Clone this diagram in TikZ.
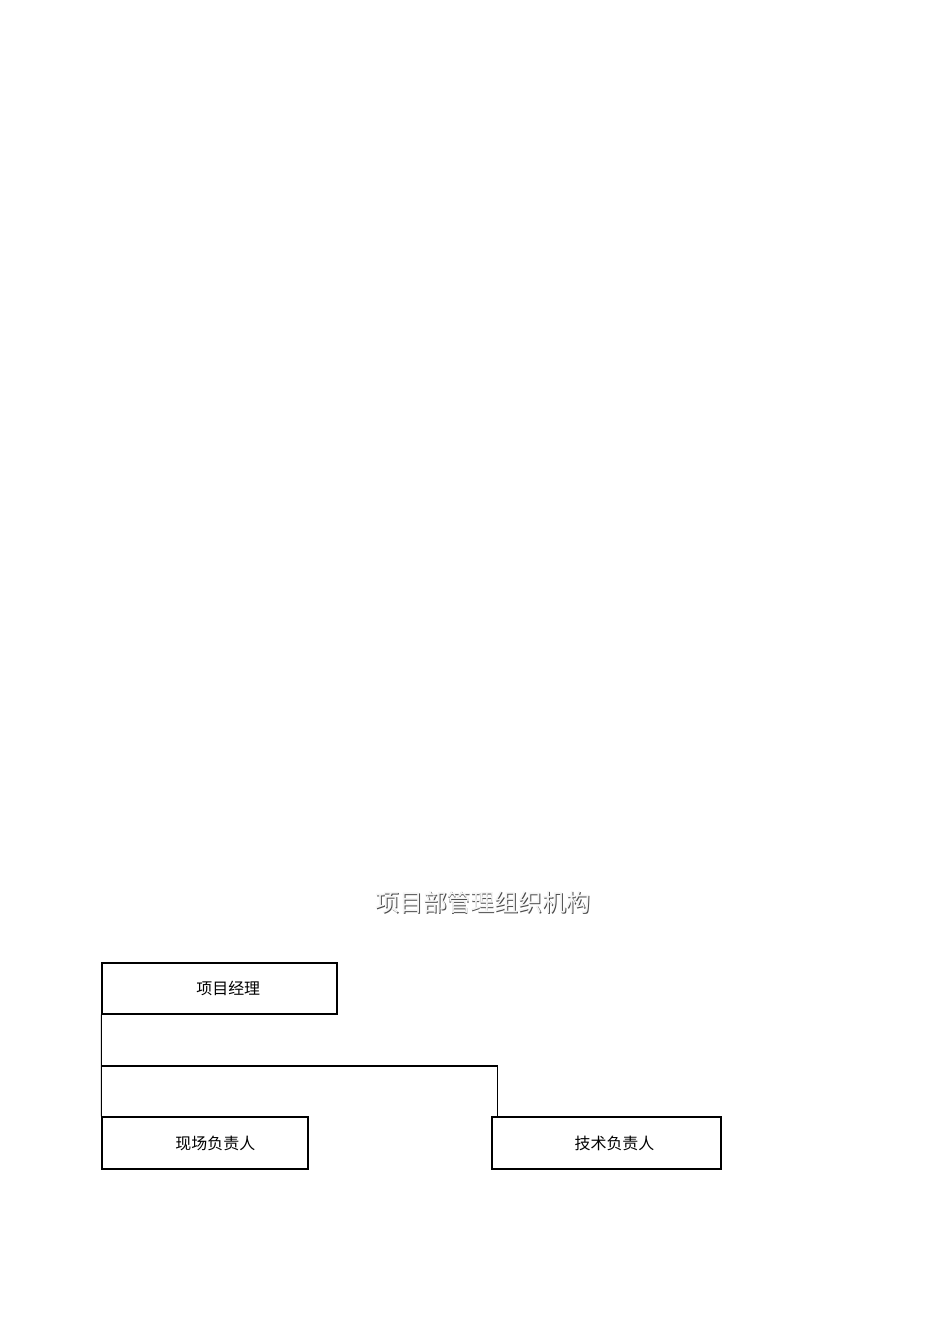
\documentclass[tikz,border=0pt]{standalone}
\usepackage{fontspec}
\setmainfont{Noto Sans CJK SC}
\usetikzlibrary{calc}
\tikzset{
  orgbox/.style={rectangle, line width=0.75pt, draw=black, inner sep=0pt},
}
\begin{document}
\begin{tikzpicture}[x=0.6266pt, y=-0.6266pt]
                \useasboundingbox (0,0) rectangle (950,1344);

                % title, embossed look
                \node[gray!60!black, font=\fontsize{15}{18}\selectfont] (titleshade) at (483.9, 902.9) {项目部管理组织机构};
                \node[gray!8, font=\fontsize{15}{18}\selectfont] (title) at (483, 902) {项目部管理组织机构};

                \node[orgbox, minimum width=147.3pt, minimum height=32.0pt, font=\fontsize{10}{12}\selectfont] (manager) at (219.5, 988.5) {\hspace*{11pt}项目经理};
                \node[orgbox, minimum width=129.1pt, minimum height=32.6pt, font=\fontsize{10}{12}\selectfont] (site)    at (205, 1143)   {\hspace*{13pt}现场负责人};
                \node[orgbox, minimum width=143.5pt, minimum height=32.6pt, font=\fontsize{10}{12}\selectfont] (tech)    at (606.5, 1143) {\hspace*{10pt}技术负责人};

                \coordinate (branch) at (102, 1066);

                \draw[black, line width=0.75pt] (manager.south west) -- (site.north west);
                \draw[black, line width=0.75pt] (branch) -| ($(tech.north west)+(6,0)$);
            \end{tikzpicture}
\end{document}
